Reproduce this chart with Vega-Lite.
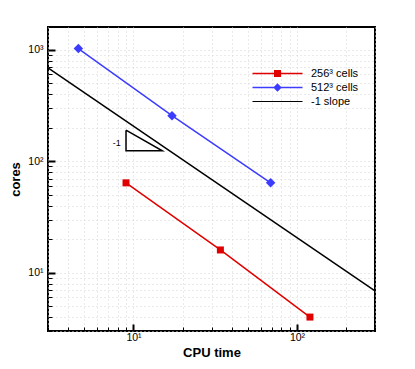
{
  "$schema": "https://vega.github.io/schema/vega-lite/v6.json",
  "width": 327,
  "height": 304,
  "autosize": "none",
  "padding": {"left": 48, "top": 27, "right": 40, "bottom": 38},
  "background": "white",
  "config": {
    "view": {"stroke": "black", "strokeWidth": 2},
    "font": "Liberation Sans"
  },
  "datasets": {
    "perf": [
      {"series": "256³ cells", "x": 9, "y": 64},
      {"series": "256³ cells", "x": 34, "y": 16},
      {"series": "256³ cells", "x": 120, "y": 4},
      {"series": "512³ cells", "x": 4.6, "y": 1024},
      {"series": "512³ cells", "x": 17.2, "y": 256},
      {"series": "512³ cells", "x": 69, "y": 64},
      {"series": "-1 slope", "x": 3, "y": 687},
      {"series": "-1 slope", "x": 300, "y": 6.87}
    ],
    "tri": [
      {"i": 0, "x": 9, "y": 190},
      {"i": 1, "x": 9, "y": 124},
      {"i": 2, "x": 15, "y": 124},
      {"i": 3, "x": 9, "y": 190}
    ],
    "note": [{"x": 7.9, "y": 145, "label": "-1"}]
  },
  "layer": [
    {
      "data": {"name": "perf"},
      "mark": {"type": "line", "strokeWidth": 1.5},
      "encoding": {
        "x": {
          "field": "x", "type": "quantitative",
          "scale": {"type": "log", "domain": [3, 300], "nice": false},
          "axis": {
            "title": "CPU time",
            "titleFont": "Liberation Sans", "titleFontSize": 13, "titleFontWeight": "bold", "titleColor": "black",
            "titlePadding": 1,
            "values": [3, 4, 5, 6, 7, 8, 9, 10, 20, 30, 40, 50, 60, 70, 80, 90, 100, 200, 300],
            "labelExpr": "datum.value == 10 ? '10¹' : datum.value == 100 ? '10²' : ''",
            "labelFontSize": 10.5, "labelColor": "black", "labelPadding": 8,
            "labelFlush": false, "labelOverlap": false,
            "domain": false,
            "tickColor": "black",
            "tickSize": {"condition": {"test": "datum.value == 10 || datum.value == 100", "value": -7}, "value": -4},
            "tickWidth": {"condition": {"test": "datum.value == 10 || datum.value == 100", "value": 2}, "value": 1},
            "grid": true, "gridColor": "#d4d4d4", "gridDash": [1, 3], "gridWidth": 1
          }
        },
        "y": {
          "field": "y", "type": "quantitative",
          "scale": {"type": "log", "domain": [3, 1600], "nice": false},
          "axis": {
            "title": "cores",
            "titleFont": "Liberation Sans", "titleFontSize": 13, "titleFontWeight": "bold", "titleColor": "black",
            "titlePadding": 5,
            "values": [3, 4, 5, 6, 7, 8, 9, 10, 20, 30, 40, 50, 60, 70, 80, 90, 100, 200, 300, 400, 500, 600, 700, 800, 900, 1000],
            "labelExpr": "datum.value == 10 ? '10¹' : datum.value == 100 ? '10²' : datum.value == 1000 ? '10³' : ''",
            "labelFontSize": 10.5, "labelColor": "black", "labelPadding": 12,
            "labelFlush": false, "labelOverlap": false,
            "domain": false,
            "tickColor": "black",
            "tickSize": {"condition": {"test": "datum.value == 10 || datum.value == 100 || datum.value == 1000", "value": -7}, "value": -4},
            "tickWidth": {"condition": {"test": "datum.value == 10 || datum.value == 100 || datum.value == 1000", "value": 2}, "value": 1},
            "grid": true, "gridColor": "#d4d4d4", "gridDash": [1, 3], "gridWidth": 1
          }
        },
        "color": {
          "field": "series", "type": "nominal",
          "scale": {"domain": ["256³ cells", "512³ cells", "-1 slope"], "range": ["#e00000", "#3c3cff", "#000000"]},
          "legend": {
            "orient": "none", "legendX": 224, "legendY": 41,
            "title": null, "padding": 0,
            "symbolSize": 100, "labelOffset": 28, "rowPadding": 2,
            "labelFont": "Liberation Sans", "labelFontSize": 11, "labelColor": "black",
            "encode": {
              "symbols": {
                "update": {
                  "shape": {"signal": "datum.value === '256³ cells' ? 'M-5,-0.15L5,-0.15L5,0.15L-5,0.15ZM-0.7,-0.7L0.7,-0.7L0.7,0.7L-0.7,0.7Z' : datum.value === '512³ cells' ? 'M-5,-0.15L5,-0.15L5,0.15L-5,0.15ZM0,-0.85L0.85,0L0,0.85L-0.85,0Z' : 'M-5,-0.12L5,-0.12L5,0.12L-5,0.12Z'"},
                  "fill": {"scale": "color", "field": "value"},
                  "strokeWidth": {"value": 0},
                  "opacity": {"value": 1}
                }
              }
            }
          }
        }
      }
    },
    {
      "data": {"name": "perf"},
      "transform": [{"filter": "datum.series === '256³ cells'"}],
      "mark": {"type": "point", "shape": "square", "filled": true, "size": 49, "color": "#e00000", "opacity": 1},
      "encoding": {
        "x": {"field": "x", "type": "quantitative"},
        "y": {"field": "y", "type": "quantitative"}
      }
    },
    {
      "data": {"name": "perf"},
      "transform": [{"filter": "datum.series === '512³ cells'"}],
      "mark": {"type": "point", "shape": "diamond", "filled": true, "size": 90, "color": "#3c3cff", "opacity": 1},
      "encoding": {
        "x": {"field": "x", "type": "quantitative"},
        "y": {"field": "y", "type": "quantitative"}
      }
    },
    {
      "data": {"name": "tri"},
      "mark": {"type": "line", "color": "black", "strokeWidth": 1.5},
      "encoding": {
        "x": {"field": "x", "type": "quantitative"},
        "y": {"field": "y", "type": "quantitative"},
        "order": {"field": "i", "type": "quantitative"}
      }
    },
    {
      "data": {"name": "note"},
      "mark": {"type": "text", "fontSize": 9, "font": "Liberation Sans", "color": "black", "align": "center", "baseline": "middle"},
      "encoding": {
        "x": {"field": "x", "type": "quantitative"},
        "y": {"field": "y", "type": "quantitative"},
        "text": {"field": "label"}
      }
    }
  ]
}
